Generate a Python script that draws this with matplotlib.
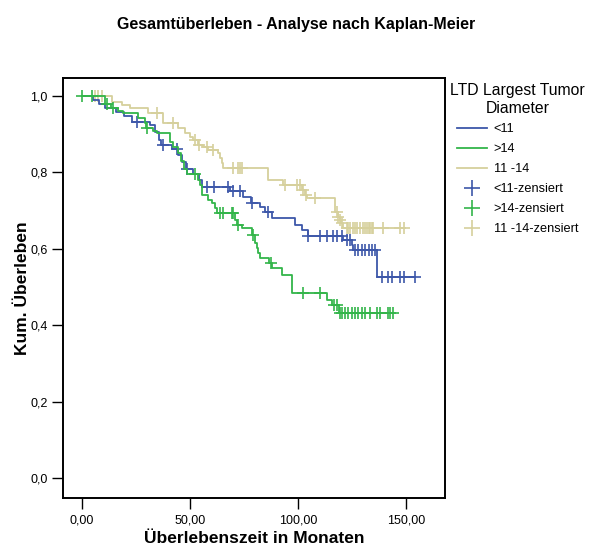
import numpy as np
import matplotlib
matplotlib.use('Agg')
import matplotlib.pyplot as plt
from matplotlib.lines import Line2D

plt.rcParams['font.family'] = ['Liberation Sans', 'DejaVu Sans']

# Kaplan-Meier steps: (event time, survival after the event)
lt11_event_t = [5.2, 8.0, 10.6, 15.5, 19.5, 23.0, 31.5, 33.8, 35.5, 36.5, 41.5, 44.5, 46.5, 48.0,
                51.5, 54.3, 55.5, 68.5, 74.7, 78.0, 82.4, 84.7, 87.8, 98.6, 101.7, 104.5,
                121.0, 124.9, 125.6, 136.4]
lt11_event_s = [0.990, 0.979, 0.968, 0.958, 0.947, 0.933, 0.925, 0.905, 0.885, 0.872, 0.862, 0.845,
                0.828, 0.810, 0.797, 0.780, 0.763, 0.752, 0.736, 0.720, 0.710, 0.697, 0.680,
                0.662, 0.649, 0.634, 0.623, 0.610, 0.597, 0.527]
lt11_cens_t = [25.3, 37.5, 43.8, 48.5, 57.7, 61.0, 67.6, 70.0, 73.0, 78.5, 86.3, 104.8, 110.2,
               113.3, 116.3, 117.9, 120.2, 122.5, 124.1, 126.4, 127.9, 129.5, 131.0, 132.6,
               134.1, 135.6, 138.7, 141.8, 143.4, 147.2, 148.8, 154.2]

gt14_event_t = [10.5, 13.5, 16.8, 19.1, 26.1, 29.2, 29.8, 33.0, 34.6, 40.7, 42.3, 44.5, 46.0,
                47.3, 48.5, 53.8, 54.6, 55.4, 58.5, 60.0, 61.6, 62.4, 70.8, 71.6, 73.9, 78.5,
                80.1, 80.9, 81.6, 82.4, 86.5, 87.8, 92.5, 97.0, 113.3, 115.6, 119.0]
gt14_event_s = [0.980, 0.968, 0.960, 0.955, 0.942, 0.928, 0.915, 0.908, 0.902, 0.880, 0.867,
                0.850, 0.830, 0.810, 0.797, 0.780, 0.767, 0.741, 0.728, 0.719, 0.706, 0.693,
                0.675, 0.662, 0.654, 0.636, 0.614, 0.601, 0.588, 0.575, 0.562, 0.549, 0.531,
                0.484, 0.466, 0.453, 0.433]
gt14_cens_t = [0.0, 4.5, 11.5, 14.5, 30.0, 52.3, 63.9, 65.4, 69.3, 70.0, 72.4, 79.3, 87.3, 102.5,
               110.2, 116.4, 117.9, 119.4, 120.2, 121.8, 123.3, 124.9, 126.4, 127.9, 129.5,
               131.0, 133.3, 136.4, 138.0, 141.8, 142.6, 144.1]

mid_event_t = [13.7, 18.4, 22.2, 30.7, 37.6, 44.6, 47.7, 50.0, 51.5, 53.9, 56.0, 58.5, 63.1,
               63.9, 64.7, 65.4, 86.3, 93.2, 102.0, 103.0, 104.0, 117.1, 118.5, 119.2, 120.0,
               121.0]
mid_event_s = [0.985, 0.976, 0.968, 0.955, 0.928, 0.915, 0.902, 0.893, 0.885, 0.872, 0.867,
               0.859, 0.850, 0.837, 0.824, 0.811, 0.780, 0.767, 0.754, 0.741, 0.732, 0.697,
               0.684, 0.675, 0.667, 0.654]
mid_cens_t = [6.0, 7.5, 9.1, 34.6, 42.3, 52.3, 54.2, 57.7, 60.8, 70.0, 72.4, 73.1, 73.9, 94.0,
              99.4, 100.9, 102.5, 103.5, 108.0, 117.9, 118.7, 119.4, 120.2, 122.5, 123.3, 124.1,
              125.6, 126.4, 127.2, 128.7, 130.2, 131.0, 131.8, 132.6, 133.3, 134.1, 134.9,
              139.5, 147.2, 148.8]

group_labels = ['<11', '>14', '11 -14']
group_colors = ['#3d57a9', '#33b54a', '#d6d09c']

x_ticks = [0, 50, 100, 150]
x_ticklabels = ['0,00', '50,00', '100,00', '150,00']
y_ticks = [0.0, 0.2, 0.4, 0.6, 0.8, 1.0]
y_ticklabels = ['0,0', '0,2', '0,4', '0,6', '0,8', '1,0']

groups = {
    '<11': (lt11_event_t, lt11_event_s, lt11_cens_t),
    '>14': (gt14_event_t, gt14_event_s, gt14_cens_t),
    '11 -14': (mid_event_t, mid_event_s, mid_cens_t),
}


def surv_at(ev_t, ev_s, t):
    idx = np.searchsorted(ev_t, t, side='right')
    return np.concatenate([[1.0], ev_s])[idx]


fig = plt.figure(figsize=(5.92, 5.46), dpi=100)
ax = fig.add_axes([63 / 592, 48 / 546, 382 / 592, 420 / 546])

draw_order = ['11 -14', '<11', '>14']
for name in draw_order:
    ev_t, ev_s, c_t = groups[name]
    color = group_colors[group_labels.index(name)]
    end_t = max(max(ev_t), max(c_t))
    t = np.concatenate([[0.0], ev_t, [end_t]])
    s = np.concatenate([[1.0], ev_s, [ev_s[-1]]])
    ax.step(t, s, where='post', color=color, lw=1.3)
    cy = surv_at(np.array(ev_t), np.array(ev_s), np.array(c_t))
    ax.plot(c_t, cy, ls='none', marker='+', ms=8, mew=1.2, color=color)

ax.set_xlim(-8.8, 168)
ax.set_ylim(-0.052, 1.047)
ax.set_xticks(x_ticks)
ax.set_xticklabels(x_ticklabels)
ax.set_yticks(y_ticks)
ax.set_yticklabels(y_ticklabels)
ax.tick_params(direction='out', length=8, width=1, labelsize=9, colors='black')
ax.tick_params(axis='x', pad=4)
ax.tick_params(axis='y', pad=3)
for sp in ax.spines.values():
    sp.set_linewidth(1.4)

# x label sits right at the bottom edge, as in the original export
fig.text((63 + 445) / 2 / 592, 3 / 546, 'Überlebenszeit in Monaten', ha='center', va='baseline',
         fontsize=12.5, fontweight='bold')
ax.set_ylabel('Kum. Überleben', fontsize=12.5, fontweight='bold', labelpad=0.5)
fig.text(0.5, 1 - 25 / 546, 'Gesamtüberleben - Analyse nach Kaplan-Meier',
         ha='center', va='center', fontsize=11.5, fontweight='bold')

handles = [Line2D([], [], color=c, lw=1.3) for c in group_colors]
handles += [Line2D([], [], color=c, ls='none', marker='+', ms=12, mew=1.2) for c in group_colors]
labels = group_labels + [g + '-zensiert' for g in group_labels]
leg = ax.legend(handles, labels, loc='upper left', bbox_to_anchor=(1.0, 1.0), frameon=False,
                title='LTD Largest Tumor\nDiameter', title_fontsize=11.3, fontsize=9.2,
                handlelength=2.4, handletextpad=0.5, labelspacing=0.62, borderaxespad=0.1,
                borderpad=0.3)
leg.get_title().set_multialignment('center')

fig.savefig('out.png', dpi=100)
